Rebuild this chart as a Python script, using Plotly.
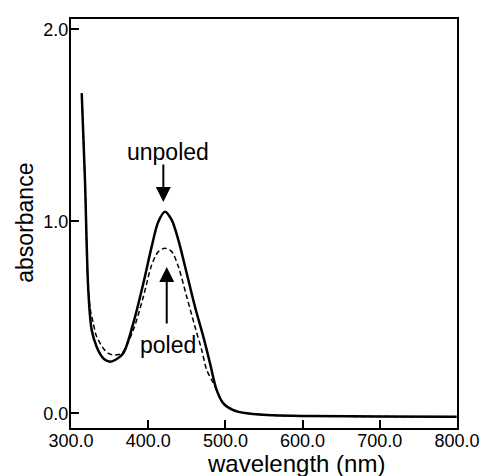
import plotly.graph_objects as go

# wavelength (nm) and absorbance
wavelength_unpoled = [313.9, 318.1, 322.4, 326.8, 333.3, 337.6, 342.7, 350.5, 358.3,
                      367.7, 380.7, 393.7, 404.5, 413.1, 421.8, 430.4, 439.0, 449.9,
                      460.6, 471.4, 480.1, 488.7, 497.3, 510.2, 527.6, 562.0, 605.3,
                      700.3, 799.6]
absorbance_unpoled = [1.667, 1.215, 0.642, 0.434, 0.345, 0.310, 0.283, 0.269, 0.280,
                      0.3125, 0.469, 0.677, 0.868, 0.998, 1.050, 1.007, 0.903, 0.729,
                      0.555, 0.399, 0.260, 0.121, 0.052, 0.017, 0.000, -0.010, -0.014,
                      -0.017, -0.018]

wavelength_poled = [313.9, 318.1, 322.4, 325.5, 328.9, 332.4, 337.6, 342.5, 348.3,
                    353.5, 359.2, 365.7, 380.7, 393.7, 404.5, 413.1, 421.8, 430.4,
                    439.0, 449.9, 460.6, 469.3, 475.8, 484.3, 488.7, 497.3, 510.2,
                    527.6, 562.0, 605.3, 700.3, 799.6]
absorbance_poled = [1.667, 1.215, 0.642, 0.530, 0.469, 0.408, 0.365, 0.335, 0.3125,
                    0.305, 0.304, 0.312, 0.434, 0.607, 0.772, 0.842, 0.859, 0.842,
                    0.764, 0.607, 0.451, 0.330, 0.226, 0.158, 0.121, 0.052, 0.017,
                    0.000, -0.010, -0.014, -0.017, -0.018]

x_ticks = [300, 400, 500, 600, 700, 800]
y_ticks = [0, 1, 2]

FONT = "Liberation Sans, Arial, Helvetica, sans-serif"

fig = go.Figure()
fig.add_trace(go.Scatter(x=wavelength_poled, y=absorbance_poled, mode="lines",
                         line=dict(color="black", width=1.5, dash="5px,3px",
                                   shape="spline", smoothing=0.9),
                         name="poled", showlegend=False, hoverinfo="skip"))
fig.add_trace(go.Scatter(x=wavelength_unpoled, y=absorbance_unpoled, mode="lines",
                         line=dict(color="black", width=2.5, shape="spline", smoothing=0.9),
                         name="unpoled", showlegend=False, hoverinfo="skip"))

axis_common = dict(showline=True, linecolor="black", linewidth=2, mirror=True,
                   ticks="inside", ticklen=8, tickwidth=2, tickcolor="black",
                   showgrid=False, zeroline=False, automargin=False,
                   tickfont=dict(family=FONT, size=18, color="black"))

fig.update_xaxes(range=[300, 800], tickvals=x_ticks, tickformat=".1f",
                 ticklabelstandoff=-5, **axis_common)
fig.update_yaxes(range=[-0.0766, 2.0536], tickvals=y_ticks, tickformat=".1f",
                 ticklabelstandoff=-3, **axis_common)

# labels and arrows
fig.add_annotation(x=426.0, y=1.361, xref="x", yref="y", text="unpoled", showarrow=False,
                   font=dict(family=FONT, size=23, color="black"))
fig.add_annotation(x=419.6, y=1.100, ax=419.6, ay=1.304, xref="x", yref="y",
                   axref="x", ayref="y", text="", showarrow=True,
                   arrowhead=2, arrowsize=1.5, arrowwidth=2, arrowcolor="black")
fig.add_annotation(x=426.0, y=0.356, xref="x", yref="y", text="poled", showarrow=False,
                   font=dict(family=FONT, size=23, color="black"))
fig.add_annotation(x=424.0, y=0.762, ax=424.0, ay=0.46, xref="x", yref="y",
                   axref="x", ayref="y", text="", showarrow=True,
                   arrowhead=2, arrowsize=1.5, arrowwidth=2, arrowcolor="black")

# axis titles
fig.add_annotation(x=0.583, y=-0.087, xref="paper", yref="paper", text="wavelength (nm)",
                   showarrow=False, xanchor="center", yanchor="middle",
                   font=dict(family=FONT, size=24, color="black"))
fig.add_annotation(x=-0.119, y=0.502, xref="paper", yref="paper", text="absorbance",
                   showarrow=False, textangle=-90, xanchor="center", yanchor="middle",
                   font=dict(family=FONT, size=23, color="black"))

fig.update_layout(width=485, height=476,
                  margin=dict(l=71, r=28, t=19, b=48),
                  paper_bgcolor="white", plot_bgcolor="white")

fig.write_html("out.html", config={"displayModeBar": False},
               post_script="document.body.style.margin='0';document.body.style.padding='0';")
